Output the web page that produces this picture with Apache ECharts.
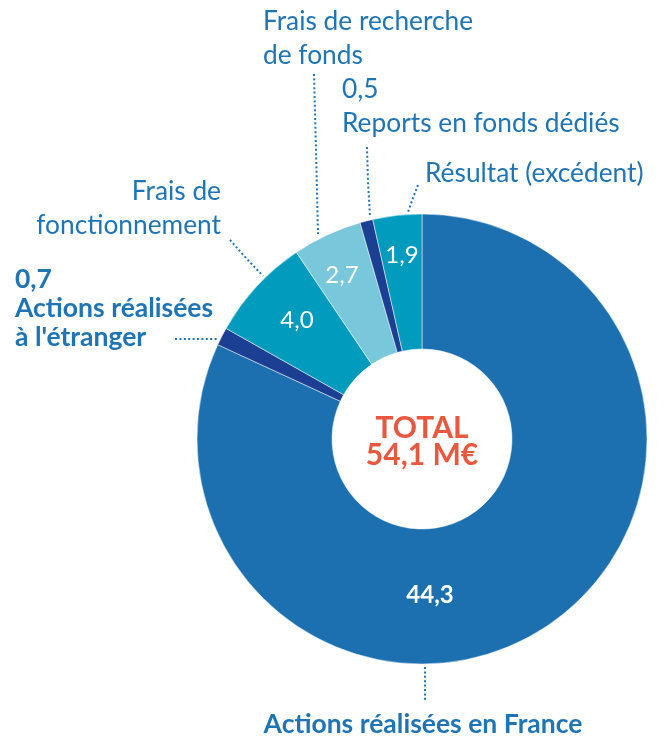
<!DOCTYPE html>
<html>
<head>
<meta charset="utf-8">
<script src="https://cdn.jsdelivr.net/npm/echarts@6/dist/echarts.min.js"></script>
<style>
  html, body { margin: 0; padding: 0; background: #fff; }
  #chart { width: 665px; height: 739px; }
</style>
</head>
<body>
<div id="chart"></div>
<script>
// data
var categories = [
  'Actions réalisées en France',
  'Actions réalisées\nà l\'étranger',
  'Frais de\nfonctionnement',
  'Frais de recherche\nde fonds',
  'Reports en fonds dédiés',
  'Résultat (excédent)'
]
var values = [44.3, 0.7, 4.0, 2.7, 0.5, 1.9]
var sliceColors = ['#1d70b0', '#1b3f93', '#019bbd', '#79c7db', '#1b3f93', '#019bbd']
var boldLabel = [true, true, false, false, false, false]

// placement of the labels (pixels)
var labelPos = [
  { x: 423, y: 724, align: 'center', va: 'middle', line: [[425, 667], [425, 684], [425, 700]] },
  { x: 15, y: 265, align: 'left', va: 'top', line: [[175, 339], [196, 339], [217, 339]] },
  { x: 221, y: 175, align: 'right', va: 'top', line: [[230, 240], [246, 258], [263, 276]] },
  { x: 263, y: 5, align: 'left', va: 'top', line: [[314, 74], [316, 150], [318, 234]] },
  { x: 342, y: 73, align: 'left', va: 'top', line: [[367, 147], [368, 182], [370, 217]] },
  { x: 425, y: 174, align: 'left', va: 'middle', line: [[418, 185], [413, 198], [408, 212]] }
]
var valuePos = [[430, 595], null, [297, 320], [342, 275], null, [402, 255]]

var blue = '#1f74b6'

function fmt(v) {
  return v.toFixed(1).replace('.', ',')
}

var obj = {

  chart: null,

  buildData: function (withLabel) {
    var list = []
    for (var i = 0; i < values.length; i++) {
      var item = {
        name: categories[i],
        value: values[i],
        itemStyle: { color: withLabel ? sliceColors[i] : 'transparent' }
      }
      if (withLabel) {
        item.label = {
          fontWeight: boldLabel[i] ? 'bold' : 'normal',
          fontSize: boldLabel[i] ? 26.5 : 26.3,
          lineHeight: boldLabel[i] ? 29 : 34
        }
      } else {
        item.label = { show: valuePos[i] != null, fontWeight: i === 0 ? 'bold' : 'normal' }
      }
      list.push(item)
    }
    return list
  },

  initChart: function () {
    var that = this
    that.chart = echarts.init(document.getElementById('chart'))

    var total = 0
    values.forEach(function (v) { total += v })

    var option = {
      animation: false,
      graphic: [{
        type: 'text',
        z: 100,
        x: 422,
        y: 442,
        style: {
          text: 'TOTAL\n' + fmt(total) + ' M€',
          fill: '#e8573e',
          fontFamily: 'Lato',
          fontWeight: 'bold',
          fontSize: 30,
          lineHeight: 27,
          align: 'center',
          verticalAlign: 'middle'
        }
      }],
      series: [
        {
          name: 'parts',
          type: 'pie',
          center: [422, 439],
          radius: [90, 225],
          startAngle: 90,
          clockwise: true,
          silent: true,
          itemStyle: { borderColor: '#fff', borderWidth: 0.5 },
          label: {
            show: true,
            position: 'outside',
            color: blue,
            fontFamily: 'Lato',
            fontSize: 26,
            overflow: 'none',
            formatter: function (p) {
              // small slices carry their value above the name
              if (p.value < 1) return fmt(p.value) + '\n' + p.name
              return p.name
            }
          },
          labelLine: {
            show: true,
            lineStyle: { color: blue, width: 2, type: [2, 2.4] }
          },
          labelLayout: function (p) {
            var pos = labelPos[p.dataIndex]
            return {
              x: pos.x,
              y: pos.y,
              align: pos.align,
              verticalAlign: pos.va,
              labelLinePoints: pos.line
            }
          },
          data: that.buildData(true)
        },
        {
          name: 'values',
          type: 'pie',
          center: [422, 439],
          radius: [90, 225],
          startAngle: 90,
          clockwise: true,
          silent: true,
          label: {
            position: 'inside',
            color: '#fff',
            fontFamily: 'Lato',
            fontSize: 24,
            formatter: function (p) { return fmt(p.value) }
          },
          labelLine: { show: false },
          labelLayout: function (p) {
            var pos = valuePos[p.dataIndex]
            if (!pos) return {}
            return { x: pos[0], y: pos[1], align: 'center', verticalAlign: 'middle' }
          },
          data: that.buildData(false)
        }
      ]
    }

    that.chart.setOption(option, true)
  },

  init: function () {
    this.initChart()
  }
}

obj.init()
</script>
</body>
</html>
